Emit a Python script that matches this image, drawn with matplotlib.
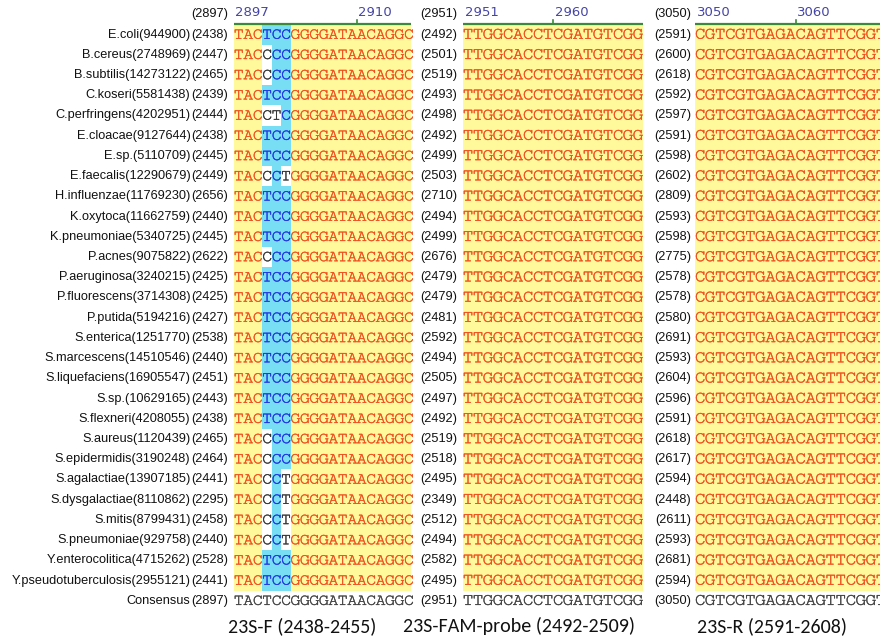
import matplotlib
matplotlib.use("Agg")
import matplotlib.pyplot as plt
from matplotlib.patches import Rectangle
import matplotlib.patheffects as pe

# strains: name, accession, start position in each of the three windows
species = ["E.coli", "B.cereus", "B.subtilis", "C.koseri", "C.perfringens", "E.cloacae",
           "E.sp.", "E.faecalis", "H.influenzae", "K.oxytoca", "K.pneumoniae", "P.acnes",
           "P.aeruginosa", "P.fluorescens", "P.putida", "S.enterica", "S.marcescens",
           "S.liquefaciens", "S.sp.", "S.flexneri", "S.aureus", "S.epidermidis",
           "S.agalactiae", "S.dysgalactiae", "S.mitis", "S.pneumoniae",
           "Y.enterocolitica", "Y.pseudotuberculosis"]
accession = [944900, 2748969, 14273122, 5581438, 4202951, 9127644, 5110709, 12290679,
             11769230, 11662759, 5340725, 9075822, 3240215, 3714308, 5194216, 1251770,
             14510546, 16905547, 10629165, 4208055, 1120439, 3190248, 13907185, 8110862,
             8799431, 929758, 4715262, 2955121]
start_f = [2438, 2447, 2465, 2439, 2444, 2438, 2445, 2449, 2656, 2440, 2445, 2622, 2425, 2425,
           2427, 2538, 2440, 2451, 2443, 2438, 2465, 2464, 2441, 2295, 2458, 2440, 2528, 2441]
start_p = [2492, 2501, 2519, 2493, 2498, 2492, 2499, 2503, 2710, 2494, 2499, 2676, 2479, 2479,
           2481, 2592, 2494, 2505, 2497, 2492, 2519, 2518, 2495, 2349, 2512, 2494, 2582, 2495]
start_r = [2591, 2600, 2618, 2592, 2597, 2591, 2598, 2602, 2809, 2593, 2598, 2775, 2578, 2578,
           2580, 2691, 2593, 2604, 2596, 2591, 2618, 2617, 2594, 2448, 2611, 2593, 2681, 2594]

# forward primer window, one string per strain
seq_f = ["TACTCCGGGGATAACAGGC", "TACCCCGGGGATAACAGGC", "TACCCCGGGGATAACAGGC",
         "TACTCCGGGGATAACAGGC", "TACCTCGGGGATAACAGGC", "TACTCCGGGGATAACAGGC",
         "TACTCCGGGGATAACAGGC", "TACCCTGGGGATAACAGGC", "TACTCCGGGGATAACAGGC",
         "TACTCCGGGGATAACAGGC", "TACTCCGGGGATAACAGGC", "TACCCCGGGGATAACAGGC",
         "TACTCCGGGGATAACAGGC", "TACTCCGGGGATAACAGGC", "TACTCCGGGGATAACAGGC",
         "TACTCCGGGGATAACAGGC", "TACTCCGGGGATAACAGGC", "TACTCCGGGGATAACAGGC",
         "TACTCCGGGGATAACAGGC", "TACTCCGGGGATAACAGGC", "TACCCCGGGGATAACAGGC",
         "TACCCCGGGGATAACAGGC", "TACCCTGGGGATAACAGGC", "TACCCTGGGGATAACAGGC",
         "TACCCTGGGGATAACAGGC", "TACCCTGGGGATAACAGGC", "TACTCCGGGGATAACAGGC",
         "TACTCCGGGGATAACAGGC"]
# probe and reverse primer windows are identical in every strain
seq_p = ["TTGGCACCTCGATGTCGG"] * len(species)
seq_r = ["CGTCGTGAGACAGTTCGGT"] * len(species)

consensus = ["TACTCCGGGGATAACAGGC", "TTGGCACCTCGATGTCGG", "CGTCGTGAGACAGTTCGGT"]
consensus_start = [2897, 2951, 3050]
ruler_marks = [[2897, 2910], [2951, 2960], [3050, 3060]]
titles = ["23S-F (2438-2455)", "23S-FAM-probe (2492-2509)", "23S-R (2591-2608)"]

# layout in pixels
W, H = 880, 638
x0 = [234, 463, 695]
cw = [9.45, 10.0, 10.05]
x1 = [410.7, 643, 880]
num_right = [228, 457, 691]
title_x = [302, 519, 772]
row_top0, row_h = 24.6, 20.22

YELLOW, CYAN = "#FFF99C", "#78DEF4"
ORANGE, BLUE, GREY = "#EE5020", "#2036E0", "#333333"
SEQ_FONT = ["Cutive Mono", "Courier Prime", "Liberation Serif"]
LAB_FONT = ["Liberation Sans", "DejaVu Sans"]
TITLE_FONT = ["Carlito", "Open Sans"]
LAB_SIZE = 9.2


def seq_char(x, y, ch, size, color, clip):
    t = ax.text(x, y, ch, ha="center", va="baseline", family=SEQ_FONT, size=size,
                color=color, zorder=2,
                path_effects=[pe.withStroke(linewidth=0.2, foreground=color)])
    t.set_clip_path(clip)


fig = plt.figure(figsize=(W / 100, H / 100), dpi=100)
ax = fig.add_axes([0, 0, 1, 1])
ax.set_xlim(0, W)
ax.set_ylim(H, 0)
ax.axis("off")

starts = [start_f, start_p, start_r]
seqs = [seq_f, seq_p, seq_r]
n = len(species)

# strain labels
for i in range(n):
    base = row_top0 + i * row_h + 13.0
    ax.text(num_right[0] - 37.5, base, f"{species[i]}({accession[i]})", ha="right",
            va="baseline", family=LAB_FONT, size=LAB_SIZE, color="#111111")
ax.text(num_right[0] - 37.5, row_top0 + n * row_h + 13.0, "Consensus", ha="right",
        va="baseline", family=LAB_FONT, size=LAB_SIZE, color="#111111")

for p in range(3):
    clip = Rectangle((x0[p], 0), x1[p] - x0[p], H, transform=ax.transData)
    cons = consensus[p]
    rows = seqs[p]
    size = 12.4 * cw[p] / 10

    # ruler
    ax.plot([x0[p], x1[p]], [24, 24], color="#3A8A3A", lw=1.6, solid_capstyle="butt")
    for k, m in enumerate(ruler_marks[p]):
        xm = x0[p] + (m - consensus_start[p]) * cw[p]
        if k > 0:
            ax.plot([xm, xm], [24, 20], color="#3A8A3A", lw=1.2)
        ax.text(xm + 1.5, 13, str(m), ha="left", va="center", family="DejaVu Sans",
                size=9.5, color="#4545A5")
    ax.text(num_right[p], 14, f"({consensus_start[p]})", ha="right", va="center",
            family=LAB_FONT, size=LAB_SIZE, color="#111111")

    for i in range(n):
        top = row_top0 + i * row_h
        ax.text(num_right[p], top + 13.0, f"({starts[p][i]})", ha="right", va="baseline",
                family=LAB_FONT, size=LAB_SIZE, color="#111111")
        for j, ch in enumerate(rows[i]):
            column = {r[j] for r in rows}
            if len(column) == 1:
                bg, fg = YELLOW, ORANGE
            elif ch == cons[j]:
                bg, fg = CYAN, BLUE
            else:
                bg, fg = "white", GREY
            r = Rectangle((x0[p] + j * cw[p], top), cw[p] + 0.3, row_h + 0.3,
                          facecolor=bg, edgecolor="none", zorder=1)
            ax.add_patch(r)
            r.set_clip_path(clip)
            seq_char(x0[p] + (j + 0.5) * cw[p], top + 14.2, ch, size, fg, clip)

    # consensus line
    top = row_top0 + n * row_h
    ax.text(num_right[p], top + 13.0, f"({consensus_start[p]})", ha="right",
            va="baseline", family=LAB_FONT, size=LAB_SIZE, color="#111111")
    for j, ch in enumerate(cons):
        seq_char(x0[p] + (j + 0.5) * cw[p], top + 14.2, ch, size, "#444444", clip)

    ax.text(title_x[p], 626, titles[p], ha="center", va="center", family=TITLE_FONT,
            size=14.4, color="#111111")

fig.savefig("out.png", dpi=100)
